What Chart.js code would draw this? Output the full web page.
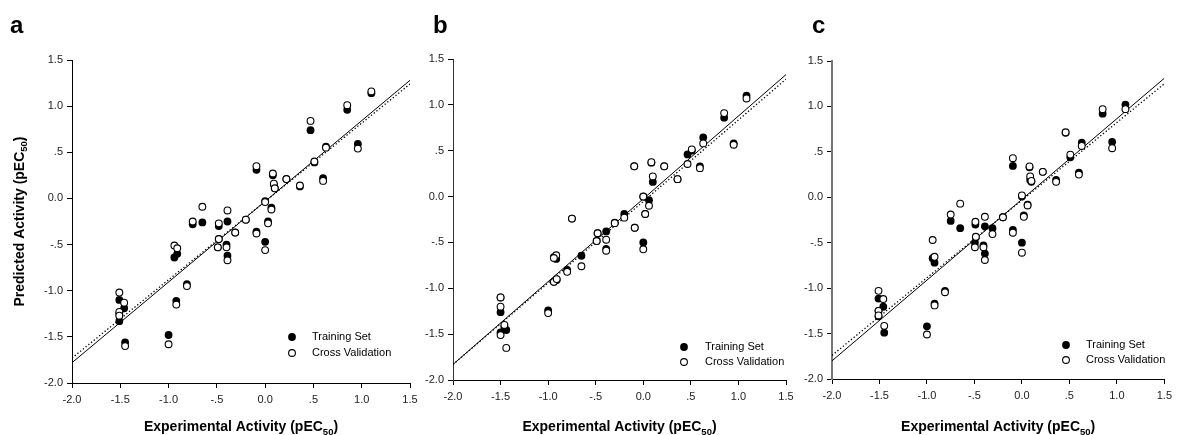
<!DOCTYPE html>
<html><head><meta charset="utf-8">
<script src="https://cdn.jsdelivr.net/npm/chart.js@4/dist/chart.umd.min.js"></script>
<style>
html,body{margin:0;padding:0;background:#fff;width:1177px;height:435px;overflow:hidden}
#wrap{position:relative;width:1177px;height:435px}
canvas{position:absolute;left:0;top:0}
</style></head><body><div id="wrap">
<canvas id="ca" width="1177" height="435"></canvas>
<canvas id="cb" width="1177" height="435"></canvas>
<canvas id="cc" width="1177" height="435"></canvas>
</div>
<script>
// ---------- data ----------
const tickValues = [-2, -1.5, -1, -0.5, 0, 0.5, 1, 1.5];
const tickLabels = ["-2.0", "-1.5", "-1.0", "-.5", "0.0", ".5", "1.0", "1.5"];
const panelLetters = ["a", "b", "c"];
const legendLabels = ["Training Set", "Cross Validation"];
const xTitle = ["Experimental Activity (pEC", "50", ")"];
const yTitle = ["Predicted Activity (pEC", "50", ")"];

// panel a
const expA   = [-1.51,-1.51,-1.51,-1.46,-1.45,-1.00,-0.92,-0.81,-0.94,-0.91,-0.75,-0.65,-0.48,-0.39,-0.20,-0.31,-0.48,-0.49,-0.40,-0.39,-0.09,0.00,0.00,0.03,0.065,0.09,0.10,0.08,-0.09,0.22,0.36,0.60,0.51,0.63,0.47,0.96,0.85,1.10];
const trainA = [-1.10,-1.25,-1.33,-1.19,-1.56,-1.48,-1.11,-0.93,-0.64,-0.60,-0.28,-0.26,-0.30,-0.25,-0.23,-0.37,-0.44,-0.53,-0.50,-0.62,-0.36,-0.47,-0.03,-0.25,-0.10,0.15,0.11,0.25,0.31,0.21,0.13,0.22,0.39,0.56,0.74,0.59,0.96,1.14];
const cvA    = [-1.02,-1.23,-1.27,-1.13,-1.60,-1.58,-1.15,-0.95,-0.51,-0.54,-0.25,-0.09,-0.27,-0.13,-0.23,-0.37,-0.44,-0.53,-0.53,-0.67,-0.38,-0.56,-0.04,-0.27,-0.12,0.16,0.11,0.27,0.35,0.21,0.14,0.19,0.40,0.55,0.84,0.54,1.01,1.16];
const fitXA = [-2.0, 1.5];
const fitSolidA = [-1.78, 1.28];
const fitDotA   = [-1.73, 1.24];

// panel b
const expB   = [-1.50,-1.50,-1.50,-1.46,-1.44,-1.00,-0.915,-0.94,-0.94,-0.91,-0.80,-0.75,-0.65,-0.48,-0.49,-0.39,-0.39,-0.30,-0.20,-0.09,0.00,0.00,0.06,0.02,0.10,0.085,-0.095,0.22,0.36,0.595,0.465,0.51,0.63,0.95,0.85,1.085];
const trainB = [-1.10,-1.26,-1.48,-1.42,-1.455,-1.24,-0.68,-0.66,-0.93,-0.91,-0.80,-0.24,-0.645,-0.40,-0.485,-0.38,-0.57,-0.285,-0.19,-0.34,-0.50,0.00,-0.04,-0.19,0.16,0.37,0.33,0.33,0.19,0.33,0.46,0.50,0.645,0.58,0.86,1.10];
const cvB    = [-1.10,-1.20,-1.51,-1.40,-1.65,-1.27,-0.64,-0.67,-0.93,-0.90,-0.82,-0.24,-0.76,-0.40,-0.485,-0.47,-0.59,-0.29,-0.23,-0.34,-0.575,0.00,-0.10,-0.19,0.22,0.375,0.33,0.33,0.19,0.31,0.355,0.515,0.58,0.565,0.91,1.07];
const fitXB = [-2.0, 1.5];
const fitSolidB = [-1.83, 1.33];
const fitDotB   = [-1.83, 1.28];

// panel c
const expC   = [-1.51,-1.51,-1.51,-1.46,-1.45,-1.00,-0.92,-0.81,-0.94,-0.92,-0.75,-0.65,-0.49,-0.39,-0.20,-0.31,-0.485,-0.495,-0.405,-0.39,-0.095,0.00,0.00,0.02,0.06,0.087,0.10,0.08,-0.095,0.22,0.36,0.60,0.51,0.63,0.46,0.95,0.85,1.09];
const trainC = [-1.115,-1.25,-1.31,-1.205,-1.49,-1.42,-1.17,-1.03,-0.67,-0.72,-0.26,-0.34,-0.30,-0.32,-0.22,-0.34,-0.44,-0.50,-0.53,-0.62,-0.36,-0.50,0.01,-0.20,-0.08,0.19,0.17,0.33,0.345,0.28,0.19,0.27,0.44,0.60,0.71,0.61,0.92,1.02];
const cvC    = [-1.03,-1.25,-1.30,-1.12,-1.415,-1.51,-1.19,-1.045,-0.47,-0.655,-0.19,-0.07,-0.27,-0.215,-0.22,-0.405,-0.435,-0.55,-0.55,-0.69,-0.39,-0.61,0.02,-0.215,-0.09,0.23,0.18,0.34,0.43,0.28,0.17,0.25,0.47,0.565,0.715,0.54,0.97,0.97];
const fitXC = [-2.0, 1.5];
const fitSolidC = [-1.80, 1.31];
const fitDotC   = [-1.74, 1.25];

// ---------- layout / style ----------
const FAM = '"Liberation Sans", Arial, Helvetica, sans-serif';
const W = 1177, H = 435, YW = 40, XH = 30;

const panels = [
  {id:'ca', exp:expA, train:trainA, cv:cvA, fx:fitXA, fs:fitSolidA, fd:fitDotA,
   area:{l:72, r:410, t:60, b:383}, letterX:10, yTitle:true, yBorder:'#000', yBorderW:1,
   leg:{mx:292, y1:337, y2:353, tx:312}},
  {id:'cb', exp:expB, train:trainB, cv:cvB, fx:fitXB, fs:fitSolidB, fd:fitDotB,
   area:{l:453, r:786, t:59, b:380}, letterX:433, yTitle:false, yBorder:'#333', yBorderW:1,
   leg:{mx:684, y1:347, y2:362, tx:705}},
  {id:'cc', exp:expC, train:trainC, cv:cvC, fx:fitXC, fs:fitSolidC, fd:fitDotC,
   area:{l:832, r:1169, t:61, b:379}, letterX:812, yTitle:false, yBorder:'#777', yBorderW:2,
   leg:{mx:1066, y1:345, y2:360, tx:1086}}
];

function pairs(xs, ys){ return xs.map((x,i)=>({x:x, y:ys[i]})); }
function tickLabel(v){
  const i = tickValues.findIndex(t => Math.abs(t - v) < 1e-6);
  return i >= 0 ? tickLabels[i] : '';
}

function drawSubText(ctx, parts, cx, cy, rot){
  ctx.save();
  ctx.translate(cx, cy);
  if (rot) ctx.rotate(-Math.PI/2);
  const fBig = 'bold 14px ' + FAM, fSmall = 'bold 9.5px ' + FAM;
  ctx.font = fBig; const w1 = ctx.measureText(parts[0]).width, w3 = ctx.measureText(parts[2]).width;
  ctx.font = fSmall; const w2 = ctx.measureText(parts[1]).width;
  let x = -(w1 + w2 + w3) / 2;
  ctx.textAlign = 'left'; ctx.textBaseline = 'alphabetic'; ctx.fillStyle = '#000';
  ctx.font = fBig; ctx.fillText(parts[0], x, 0); x += w1;
  ctx.font = fSmall; ctx.fillText(parts[1], x, 3.5); x += w2;
  ctx.font = fBig; ctx.fillText(parts[2], x, 0);
  ctx.restore();
}

const decorPlugin = {
  id: 'decor',
  afterDraw(chart, args, opts){
    const p = opts.panel, idx = opts.idx;
    const ctx = chart.ctx, ca = chart.chartArea;
    ctx.save();
    ctx.font = 'bold 24px ' + FAM; ctx.fillStyle = '#000';
    ctx.textAlign = 'left'; ctx.textBaseline = 'alphabetic';
    ctx.fillText(panelLetters[idx], p.letterX, 33);
    drawSubText(ctx, xTitle, (ca.left + ca.right) / 2, 431, false);
    if (p.yTitle) drawSubText(ctx, yTitle, 23.5, (ca.top + ca.bottom) / 2, true);
    const r = 3.4;
    ctx.beginPath(); ctx.arc(p.leg.mx, p.leg.y1, r + 0.5, 0, Math.PI*2); ctx.fillStyle = '#000'; ctx.fill();
    ctx.beginPath(); ctx.arc(p.leg.mx, p.leg.y2, r, 0, Math.PI*2); ctx.fillStyle = '#fff'; ctx.fill();
    ctx.lineWidth = 1.1; ctx.strokeStyle = '#000'; ctx.stroke();
    ctx.font = '11px ' + FAM; ctx.fillStyle = '#000'; ctx.textBaseline = 'middle';
    ctx.fillText(legendLabels[0], p.leg.tx, p.leg.y1);
    ctx.fillText(legendLabels[1], p.leg.tx, p.leg.y2);
    ctx.restore();
  }
};

panels.forEach((p, idx) => {
  const axisCommon = {
    type: 'linear', min: -2, max: 1.5,
    grid: { drawOnChartArea: false, drawTicks: true, tickLength: 5, color: '#000', tickWidth: 1 },
    ticks: { stepSize: 0.5, autoSkip: false, maxRotation: 0, color: '#222',
             font: { family: FAM, size: 11 }, callback: (v) => tickLabel(v) }
  };
  new Chart(document.getElementById(p.id), {
    type: 'scatter',
    data: {
      datasets: [
        { label: legendLabels[1], data: pairs(p.exp, p.cv), order: 0,
          pointRadius: 3.4, pointBackgroundColor: '#fff', pointBorderColor: '#000', pointBorderWidth: 1.1 },
        { label: legendLabels[0], data: pairs(p.exp, p.train), order: 1,
          pointRadius: 3.9, pointBackgroundColor: '#000', pointBorderColor: '#000', pointBorderWidth: 0 },
        { type: 'line', label: 'fit', data: pairs(p.fx, p.fs), order: 2, showLine: true,
          borderColor: '#000', borderWidth: 1, pointRadius: 0, fill: false },
        { type: 'line', label: 'fit cv', data: pairs(p.fx, p.fd), order: 3, showLine: true,
          borderColor: '#000', borderWidth: 1.3, borderDash: [1.3, 2.2], pointRadius: 0, fill: false }
      ]
    },
    options: {
      responsive: false, animation: false, devicePixelRatio: 1,
      layout: { padding: { left: p.area.l - YW, right: W - p.area.r, top: p.area.t, bottom: H - p.area.b - XH } },
      plugins: { legend: { display: false }, tooltip: { enabled: false }, decor: { panel: p, idx: idx } },
      scales: {
        x: Object.assign({}, axisCommon, {
          position: 'bottom',
          border: { display: true, color: '#000', width: 1 },
          ticks: Object.assign({}, axisCommon.ticks, { padding: 5 }),
          afterFit: (s) => { s.height = XH; }
        }),
        y: Object.assign({}, axisCommon, {
          position: 'left',
          border: { display: true, color: p.yBorder, width: p.yBorderW },
          ticks: Object.assign({}, axisCommon.ticks, { padding: 4 }),
          afterFit: (s) => { s.width = YW; }
        })
      }
    },
    plugins: [decorPlugin]
  });
});
</script>
</body></html>
